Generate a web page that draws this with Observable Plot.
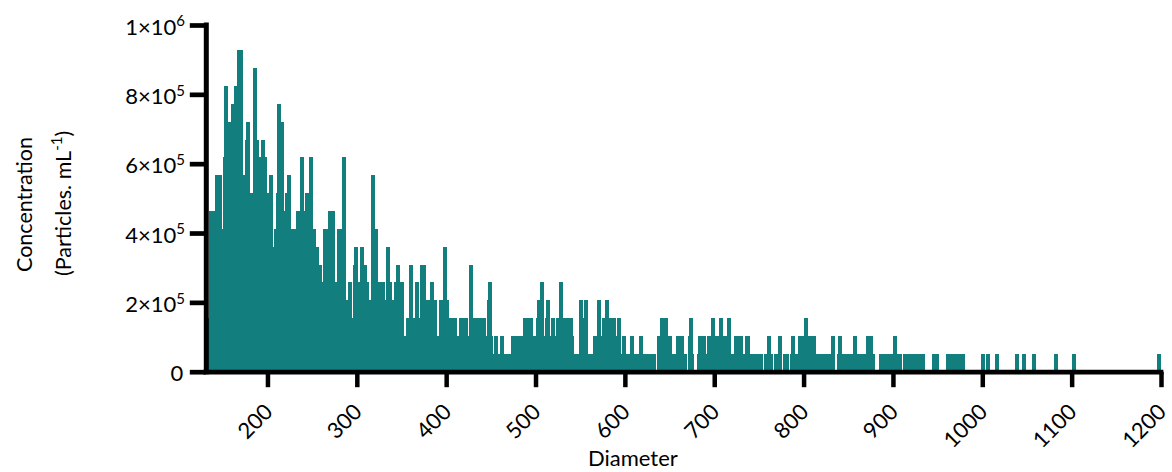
<!DOCTYPE html>
<html>
<head>
<meta charset="utf-8">
<script src="https://cdn.jsdelivr.net/npm/d3@7"></script>
<script src="https://cdn.jsdelivr.net/npm/@observablehq/plot@0.6"></script>
<style>
  html, body { margin: 0; padding: 0; background: #fff; }
  svg { display: block; }
</style>
</head>
<body>
<div id="chart"></div>
<script>
// Bin edges (nm): each bar spans binEdges[i] .. binEdges[i+1]
const binEdges = [
  132.7, 134.6, 141.3, 149.1, 150.6, 151.7, 156.2, 159.2, 162.9, 166.0,
  172.3, 174.9, 176.4, 180.8, 183.8, 188.3, 190.6, 192.8, 197.3, 199.5,
  201.7, 206.2, 207.7, 209.9, 211.0, 215.1, 218.5, 219.6, 221.9, 226.3,
  231.9, 236.4, 240.9, 242.0, 246.5, 250.9, 254.3, 257.7, 261.0, 262.5,
  267.8, 275.6, 277.8, 283.4, 287.9, 290.1, 294.6, 295.7, 296.9, 301.3,
  303.6, 308.0, 311.4, 313.6, 315.9, 320.3, 323.7, 331.5, 332.7, 337.1,
  339.4, 341.6, 343.8, 348.3, 352.8, 355.0, 358.4, 362.9, 365.1, 369.6,
  370.7, 377.4, 381.9, 386.4, 389.7, 392.0, 396.4, 400.9, 403.2, 412.1,
  414.4, 424.4, 425.6, 430.0, 444.6, 445.7, 446.8, 451.3, 452.4, 453.6,
  458.0, 460.3, 464.8, 472.6, 486.0, 497.2, 500.5, 501.6, 505.0, 509.5,
  510.6, 511.7, 516.2, 517.3, 521.8, 522.9, 526.3, 530.7, 541.9, 543.1,
  548.7, 553.1, 554.2, 558.7, 564.3, 568.8, 573.3, 574.4, 577.8, 582.2,
  590.1, 591.2, 595.7, 596.8, 601.3, 605.7, 610.2, 615.8, 620.3, 634.8,
  635.9, 639.3, 648.2, 652.7, 657.2, 666.2, 669.5, 670.6, 671.8, 676.3,
  677.4, 680.8, 681.9, 690.8, 692.0, 696.5, 700.9, 705.4, 709.9, 714.4,
  718.9, 722.1, 732.1, 734.4, 740.0, 754.5, 755.6, 759.0, 763.5, 765.7,
  766.8, 771.3, 775.8, 776.9, 783.6, 784.7, 785.9, 790.3, 793.7, 800.4,
  804.9, 813.8, 830.6, 835.1, 837.3, 838.5, 842.9, 855.2, 859.7, 869.8,
  877.6, 879.9, 884.3, 900.0, 904.5, 910.1, 911.2, 935.8, 943.7, 951.5,
  959.3, 980.6, 998.5, 1003.0, 1004.1, 1008.6, 1014.2, 1018.7, 1036.6, 1041.1,
  1044.4, 1048.9, 1055.6, 1060.1, 1080.2, 1084.7, 1100.4, 1104.8, 1195.0,
  1200.0
];

// Concentration (particles/mL) of each bin
const concentration = [
  154500, 463500, 566500, 412000, 618000, 824000, 721000, 772500, 824000, 927000,
  566500, 669500, 721000, 515000, 875500, 669500, 618000, 669500, 618000, 515000,
  566500, 360500, 412000, 515000, 772500, 721000, 463500, 515000, 566500, 412000,
  463500, 618000, 463500, 515000, 618000, 412000, 360500, 309000, 257500, 412000,
  463500, 257500, 412000, 618000, 206000, 257500, 154500, 309000, 360500, 257500,
  360500, 309000, 257500, 206000, 566500, 412000, 257500, 206000, 360500, 257500,
  206000, 257500, 309000, 257500, 103000, 154500, 309000, 154500, 257500, 154500,
  309000, 206000, 257500, 206000, 103000, 206000, 360500, 206000, 154500, 103000,
  154500, 103000, 309000, 154500, 103000, 206000, 257500, 103000, 51500, 103000,
  51500, 103000, 51500, 103000, 154500, 103000, 154500, 206000, 257500, 103000,
  154500, 206000, 103000, 154500, 103000, 154500, 257500, 154500, 103000, 51500,
  206000, 154500, 206000, 51500, 103000, 206000, 103000, 154500, 206000, 154500,
  103000, 154500, 51500, 103000, 51500, 103000, 51500, 103000, 51500, 0,
  103000, 154500, 103000, 51500, 103000, 51500, 0, 103000, 154500, 51500,
  0, 51500, 103000, 51500, 103000, 154500, 103000, 154500, 103000, 154500,
  51500, 103000, 51500, 103000, 51500, 0, 51500, 103000, 51500, 0,
  51500, 103000, 0, 51500, 0, 51500, 103000, 51500, 103000, 154500,
  103000, 51500, 103000, 0, 51500, 103000, 51500, 103000, 51500, 103000,
  51500, 0, 51500, 103000, 51500, 0, 51500, 0, 51500, 0,
  51500, 0, 51500, 0, 51500, 0, 51500, 0, 51500, 0,
  51500, 0, 51500, 0, 51500, 0, 51500, 0, 51500
];

const xTicks = [200, 300, 400, 500, 600, 700, 800, 900, 1000, 1100, 1200];
const yTicks = [0, 200000, 400000, 600000, 800000, 1000000];
const yTickBase = ["0", "2×10", "4×10", "6×10", "8×10", "1×10"];
const yTickExp = ["", "5", "5", "5", "5", "6"];

const xTitle = "Diameter";
const yTitle1 = "Concentration";
const yTitle2 = "(Particles. mL";
const yTitleSup = "-1";
const yTitle2End = ")";

const teal = "#127f7e";
const font = "Lato, 'Open Sans', sans-serif";

const bins = concentration
  .map((c, i) => ({x1: binEdges[i], x2: binEdges[i + 1], y: c}))
  .filter(d => d.y > 0);

const yLabels = yTicks.map((v, i) => ({v, base: yTickBase[i], exp: yTickExp[i]}));

const chart = Plot.plot({
  width: 1172,
  height: 472,
  marginLeft: 205.8,
  marginRight: 11,
  marginTop: 25,
  marginBottom: 100.3,
  x: {domain: [131, 1200]},
  y: {domain: [0, 1000000]},
  style: {fontFamily: font, fontSize: "22px", color: "black", background: "white"},
  marks: [
    Plot.rectY(bins, {x1: "x1", x2: "x2", y1: 0, y2: "y", fill: teal, shapeRendering: "crispEdges"}),
    Plot.axisX({ticks: xTicks, tickSize: 15.5, strokeWidth: 4.5, stroke: "black", tickFormat: () => ""}),
    Plot.axisY({ticks: yTicks, tickSize: 16, strokeWidth: 4.7, stroke: "black", tickFormat: () => ""}),
    Plot.ruleY([0], {x1: 131, x2: 1200, stroke: "black", strokeWidth: 4.7, strokeLinecap: "square"}),
    Plot.ruleX([131], {y1: 0, y2: 1000000, stroke: "black", strokeWidth: 5, strokeLinecap: "square"}),
    Plot.text(xTicks, {x: d => d, text: d => String(d), frameAnchor: "bottom", rotate: -45,
      textAnchor: "end", lineAnchor: "bottom", dx: 6, dy: 41, fontSize: 22, fill: "black"}),
    Plot.text(yLabels.filter(d => d.v !== 0), {y: "v", text: "base", frameAnchor: "left",
      textAnchor: "end", dx: -30, dy: 2, fontSize: 22, fill: "black"}),
    Plot.text(yLabels.filter(d => d.v === 0), {y: "v", text: "base", frameAnchor: "left",
      textAnchor: "end", dx: -23, dy: 2, fontSize: 22, fill: "black"}),
    Plot.text(yLabels.filter(d => d.exp !== ""), {y: "v", text: "exp", frameAnchor: "left",
      textAnchor: "start", dx: -30, dy: -4, fontSize: 15, fill: "black"}),
    Plot.text([xTitle], {frameAnchor: "bottom", text: d => d, lineAnchor: "bottom",
      dx: -51, dy: 94, fontSize: 22, fill: "black"})
  ]
});

document.getElementById("chart").appendChild(chart);

// Y-axis title (two lines, rotated, with superscript)
const svg = d3.select(chart);
svg.append("text")
  .attr("transform", "translate(32,272) rotate(-90)")
  .attr("font-family", font).attr("font-size", 21.5).attr("fill", "black")
  .attr("text-anchor", "start")
  .text(yTitle1);
const t2 = svg.append("text")
  .attr("transform", "translate(71,276) rotate(-90)")
  .attr("font-family", font).attr("font-size", 21.5).attr("fill", "black")
  .attr("text-anchor", "start");
t2.append("tspan").text(yTitle2);
t2.append("tspan").attr("font-size", 15).attr("dy", -9).text(yTitleSup);
t2.append("tspan").attr("font-size", 21.5).attr("dy", 9).text(yTitle2End);
</script>
</body>
</html>
